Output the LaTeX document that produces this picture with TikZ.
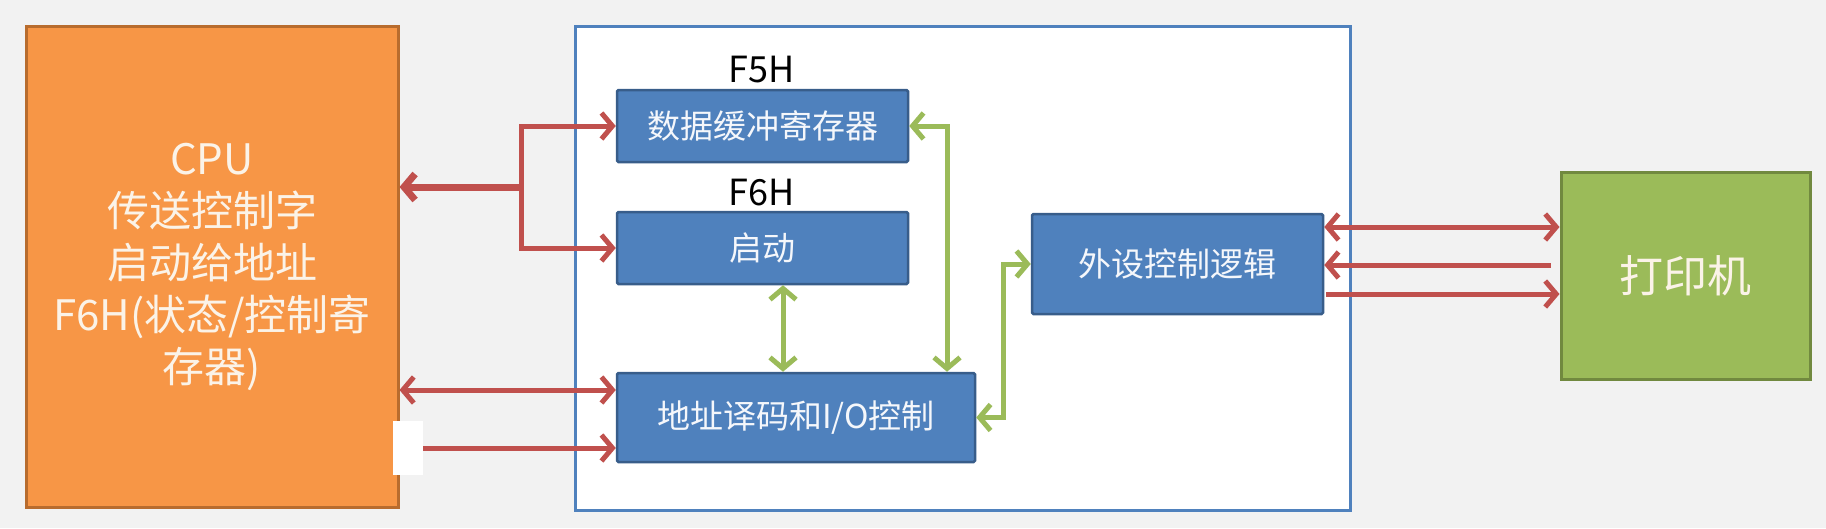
\documentclass[tikz,border=0pt]{standalone}
\usepackage{fontspec}
\setmainfont{Noto Sans CJK SC}
\usetikzlibrary{arrows.meta}
\definecolor{bg}{HTML}{F2F2F2}
\definecolor{cpufill}{HTML}{F79646}
\definecolor{cpuline}{HTML}{B86C2E}
\definecolor{boxfill}{HTML}{4F81BD}
\definecolor{boxline}{HTML}{385D8A}
\definecolor{prnfill}{HTML}{9BBB59}
\definecolor{prnline}{HTML}{71893F}
\definecolor{arrred}{HTML}{C0504D}
\definecolor{arrgreen}{HTML}{9BBB59}
\definecolor{lighttext}{HTML}{FBF3E8}
\begin{document}
\begin{tikzpicture}[x=1pt,y=-1pt,
  bluebox/.style={draw=boxline, fill=boxfill, line width=2.5pt, rounded corners=1.5pt,
    inner sep=0pt, text=white!94!boxfill, font=\fontsize{33}{40}\selectfont},
  addrlabel/.style={inner sep=0pt, text=black, font=\fontsize{36}{40}\selectfont},
  redarr/.style={draw=arrred, line width=5pt},
  busarr/.style={draw=arrred, line width=7pt},
  greenarr/.style={draw=arrgreen, line width=5pt},
  >={Straight Barb[length=11pt,width=26pt]}]
\useasboundingbox (0,0) rectangle (1826,528);
\fill[bg] (0,0) rectangle (1826,528);
% container
\node[draw=boxfill, fill=white, line width=3pt, minimum width=775pt, minimum height=484pt, inner sep=0pt] (cont) at (962.5,268) {};
% CPU
\node[draw=cpuline, fill=cpufill, line width=3pt, minimum width=372pt, minimum height=481pt,
  inner sep=0pt, align=center, text=lighttext, font=\fontsize{42}{52}\selectfont] (cpu) at (212,266.5)
  {CPU\\传送控制字\\启动给地址\\F6H(状态/控制寄\\存器)};
% white patch
\node[fill=white, minimum width=30pt, minimum height=54pt, inner sep=0pt] (patch) at (408,448) {};
% inner boxes
\node[bluebox, minimum width=291pt, minimum height=72pt] (data) at (762.5,126) {数据缓冲寄存器};
\node[bluebox, minimum width=291pt, minimum height=72pt] (start) at (762.5,248) {启动};
\node[bluebox, minimum width=358pt, minimum height=89pt] (addr) at (796,417.5) {地址译码和I/O控制};
\node[bluebox, minimum width=291pt, minimum height=100pt] (periph) at (1177.5,264) {外设控制逻辑};
\node[addrlabel] (f5h) at (762,70) {F5H};
\node[addrlabel] (f6h) at (762,193) {F6H};
% printer
\node[draw=prnline, fill=prnfill, line width=3pt, minimum width=249pt, minimum height=207pt,
  inner sep=0pt, text=lighttext, font=\fontsize{44}{50}\selectfont] (prn) at (1685.5,275.5) {打印机};
% coordinates
\coordinate (j) at (521,187);
\coordinate (ya) at (0,390);
\coordinate (gx1) at (783,0);
\coordinate (gx2) at (947,0);
\coordinate (gx3) at (1003,0);
\coordinate (r1) at (0,227);
\coordinate (r2) at (0,265);
\coordinate (r3) at (0,294);
% red connectors on the left
\draw[busarr,->] (j) -- (cpu.east |- j);
\draw[redarr,->] (j) |- (data.west);
\draw[redarr,->] (j) |- (start.west);
\draw[redarr,<->] (cpu.east |- ya) -- (addr.west |- ya);
\draw[redarr,->] (patch.east) -- (addr.west |- patch.east);
% green connectors
\draw[greenarr,<->] (start.south -| gx1) -- (addr.north -| gx1);
\draw[greenarr,<->] (data.east) -| (addr.north -| gx2);
\draw[greenarr,<->] (addr.east) -| (gx3 |- periph.west) -- (periph.west);
% red connectors on the right
\draw[redarr,<->] (periph.east |- r1) -- (prn.west |- r1);
\draw[redarr,->] ([xshift=-9pt]prn.west |- r2) -- (periph.east |- r2);
\draw[redarr,->] ([xshift=2pt]periph.east |- r3) -- (prn.west |- r3);
\end{tikzpicture}
\end{document}
